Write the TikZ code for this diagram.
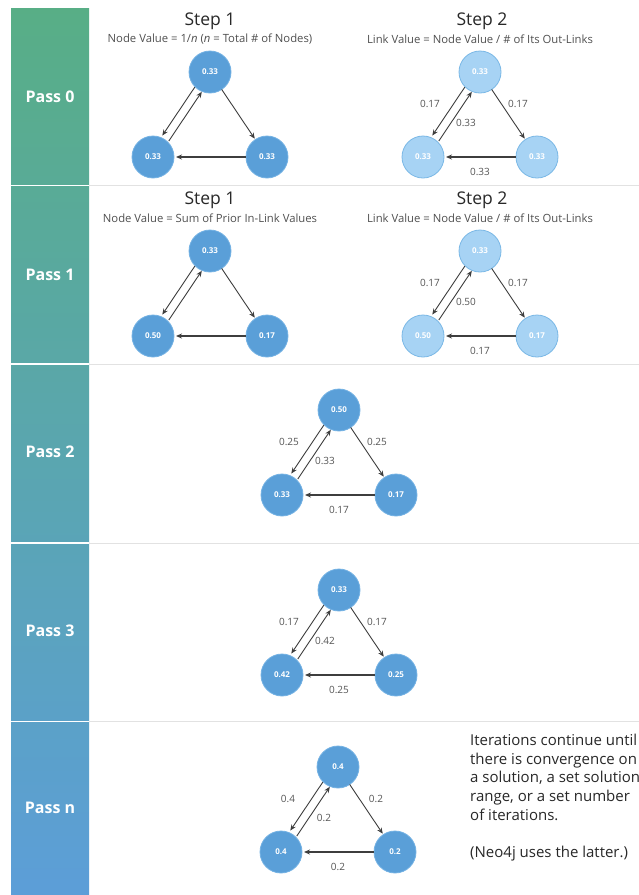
\documentclass[tikz,border=0pt]{standalone}
\usepackage{fontspec}
\setmainfont{Open Sans}
\usetikzlibrary{calc,arrows.meta}

\definecolor{nodedark}{RGB}{90,159,216}
\definecolor{nodedarkrim}{RGB}{116,178,228}
\definecolor{nodelight}{RGB}{167,211,244}
\definecolor{nodelightrim}{RGB}{122,184,230}
\definecolor{linkgray}{RGB}{62,62,62}
\definecolor{labelgray}{RGB}{85,85,85}
\definecolor{bandtop}{RGB}{88,174,134}
\definecolor{bandbottom}{RGB}{92,158,216}
\definecolor{rulegray}{RGB}{226,226,226}
\definecolor{titlegray}{RGB}{40,40,40}
\definecolor{notegray}{RGB}{80,80,80}

\tikzset{
  vnode/.style={circle, minimum size=42pt, inner sep=0pt, text=white,
    font=\fontsize{8}{9}\selectfont\bfseries, line width=0.8pt},
  darknode/.style={vnode, fill=nodedark, draw=nodedarkrim},
  lightnode/.style={vnode, fill=nodelight, draw=nodelightrim},
  link/.style={draw=linkgray, line width=0.9pt, -{Stealth[length=6pt,width=5pt]}},
  baselink/.style={link, line width=1.2pt},
  linklabel/.style={text=labelgray, font=\fontsize{10}{11}\selectfont, inner sep=0pt},
  passlabel/.style={text=white, font=\fontsize{16}{18}\selectfont\bfseries},
  steptitle/.style={text=titlegray, font=\fontsize{17.5}{19}\selectfont},
  stepnote/.style={text=notegray, font=\fontsize{11.3}{13}\selectfont},
  sidetext/.style={text=titlegray, font=\fontsize{15}{18.6}\selectfont,
    align=left, anchor=north west, inner sep=0pt},
}

% three nodes of one graph: prefix, x, y of the top node, style, values
\newcommand\triad[7]{%
  \node[#4] (#1t) at (#2,#3) {#5};
  \node[#4] (#1l) at ($(#2,#3)+(-57,85)$) {#6};
  \node[#4] (#1r) at ($(#2,#3)+(57,85)$) {#7};
  % top -> left (outer) and left -> top (inner)
  \draw[link] ($(#1t)!21pt!(#1l)!4.2pt!-90:(#1l)$) -- ($(#1l)!23pt!(#1t)!4.2pt!90:(#1t)$);
  \draw[link] ($(#1l)!22pt!(#1t)!4.2pt!-90:(#1t)$) -- ($(#1t)!21pt!(#1l)!4.2pt!90:(#1l)$);
  % top -> right
  \draw[link] ($(#1t)!21pt!(#1r)$) -- ($(#1r)!22pt!(#1t)$);
  % right -> left
  \draw[baselink] ($(#1r)!21pt!(#1l)$) -- ($(#1l)!23pt!(#1r)$);
}
% link values: prefix, top->left, top->right, left->top, right->left
\newcommand\triadvalues[5]{%
  \node[linklabel] (#1va) at ($(#1t)+(-50,32)$) {#2};
  \node[linklabel] (#1vb) at ($(#1t)+(38,32)$) {#3};
  \node[linklabel] (#1vc) at ($(#1t)+(-14,51)$) {#4};
  \node[linklabel] (#1vd) at ($(#1l)!0.5!(#1r)+(0,15)$) {#5};
}

\begin{document}
\begin{tikzpicture}[x=1pt,y=-1pt]
  \useasboundingbox (0,0) rectangle (639,895);
  \fill[white] (0,0) rectangle (639,895);

  % left band with pass names
  \shade[top color=bandtop, bottom color=bandbottom] (11,8) rectangle (89,895);
  \foreach \yy in {185.5,364,543,721.5} {
    \draw[white, line width=1.4pt] (11,\yy) -- (89,\yy);
    \draw[rulegray, line width=1pt] (89,\yy) -- (639,\yy);
  }
  \node[passlabel] (p0) at (50,97) {Pass 0};
  \node[passlabel] (p1) at (50,275) {Pass 1};
  \node[passlabel] (p2) at (50,452) {Pass 2};
  \node[passlabel] (p3) at (50,631) {Pass 3};
  \node[passlabel] (pn) at (50,808) {Pass n};

  % pass 0
  \node[steptitle] (s01) at (210,21) {Step 1};
  \node[stepnote] (n01) at (210,39) {Node Value = 1/\textit{n} (\textit{n} = Total \# of Nodes)};
  \node[steptitle] (s02) at (482,21) {Step 2};
  \node[stepnote] (n02) at (480,39) {Link Value = Node Value / \# of Its Out-Links};
  \triad{a}{210}{72}{darknode}{0.33}{0.33}{0.33}
  \triad{b}{480}{72}{lightnode}{0.33}{0.33}{0.33}
  \triadvalues{b}{0.17}{0.17}{0.33}{0.33}

  % pass 1
  \node[steptitle] (s11) at (210,200) {Step 1};
  \node[stepnote] (n11) at (210,218) {Node Value = Sum of Prior In-Link Values};
  \node[steptitle] (s12) at (482,200) {Step 2};
  \node[stepnote] (n12) at (480,218) {Link Value = Node Value / \# of Its Out-Links};
  \triad{c}{210}{251}{darknode}{0.33}{0.50}{0.17}
  \triad{d}{480}{251}{lightnode}{0.33}{0.50}{0.17}
  \triadvalues{d}{0.17}{0.17}{0.50}{0.17}

  % pass 2
  \triad{e}{339}{410}{darknode}{0.50}{0.33}{0.17}
  \triadvalues{e}{0.25}{0.25}{0.33}{0.17}

  % pass 3
  \triad{f}{339}{590}{darknode}{0.33}{0.42}{0.25}
  \triadvalues{f}{0.17}{0.17}{0.42}{0.25}

  % pass n
  \triad{g}{338}{767}{darknode}{0.4}{0.4}{0.2}
  \triadvalues{g}{0.4}{0.2}{0.2}{0.2}

  \begin{scope}
    \clip (0,0) rectangle (639,895);
    \node[sidetext] (note) at (470,734) {Iterations continue until\\there is convergence on\\a solution, a set solution\\range, or a set number\\of iterations.\\[18.6pt](Neo4j uses the latter.)};
  \end{scope}
\end{tikzpicture}
\end{document}
